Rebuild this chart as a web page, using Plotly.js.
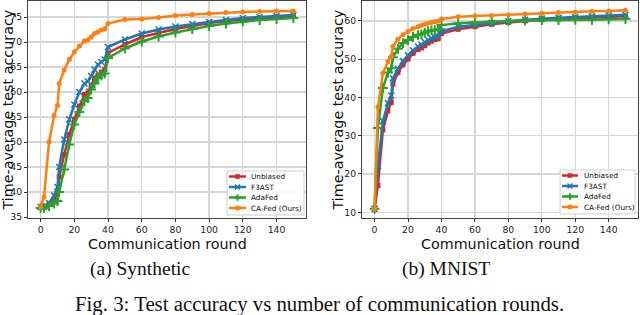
<!DOCTYPE html>
<html>
<head>
<meta charset="utf-8">
<script src="https://cdn.plot.ly/plotly-3.0.1.min.js"></script>
<style>html,body{margin:0;padding:0;background:#fff;}#chart{width:640px;height:315px;}</style>
</head>
<body>
<div id="chart"></div>
<script>
// ---- data ----
const rounds = [0,2,5,8,10,11,14,17,20,23,26,28,30,32,34,36,38,40,50,60,70,80,90,100,110,120,130,140,150];
const seriesNames = ["Unbiased", "F3AST", "AdaFed", "CA-Fed (Ours)"];
// Synthetic
const unbiasedSyn = [37.0,37.0,37.5,38.5,39.5,43.0,47.5,51.5,54.5,57.2,59.5,59.8,61.2,62.8,63.4,64.0,64.5,67.8,69.5,71.0,71.8,72.6,73.2,73.8,74.2,74.5,74.8,75.0,75.2];
const f3astSyn    = [37.0,37.0,37.8,39.3,41.0,45.0,50.5,54.5,57.5,60.0,61.7,62.1,63.2,64.5,65.5,66.0,66.5,69.0,70.5,71.7,72.5,73.1,73.6,74.0,74.4,74.8,75.0,75.2,75.4];
const adafedSyn   = [36.8,36.8,37.2,37.7,38.2,40.0,44.5,49.5,53.5,56.0,58.2,58.8,60.5,61.7,62.8,63.3,63.7,66.8,68.7,70.1,71.1,71.9,72.6,73.2,73.7,74.1,74.4,74.6,74.8];
const cafedSyn    = [37.0,39.0,50.0,55.3,57.3,61.7,64.4,66.5,68.0,69.2,70.2,70.4,71.0,71.7,72.0,72.4,72.6,73.7,74.5,74.6,74.9,75.3,75.5,75.7,75.9,76.0,76.1,76.2,76.2];
// MNIST
const unbiasedMn = [10.9,17.0,31.5,36.5,38.7,43.5,46.5,48.5,50.0,51.5,52.5,52.9,53.5,54.2,54.7,55.1,55.3,56.7,57.8,58.5,59.1,59.6,60.0,60.3,60.5,60.7,60.9,61.0,61.2];
const f3astMn    = [10.9,22.0,33.8,38.5,40.5,45.0,47.5,49.5,51.0,52.3,53.3,53.8,54.5,55.0,55.5,55.8,56.0,57.3,58.5,59.0,59.5,59.9,60.3,60.6,60.8,61.0,61.2,61.4,61.6];
const adafedMn   = [10.9,32.0,42.5,46.5,47.6,50.5,52.7,54.2,55.0,55.8,56.3,56.5,56.9,57.3,57.5,57.6,57.8,58.9,59.4,59.6,59.8,60.0,60.1,60.2,60.2,60.3,60.3,60.4,60.5];
const cafedMn    = [10.9,37.5,46.3,49.4,50.7,53.3,55.2,56.4,57.2,58.0,58.5,58.8,59.1,59.4,59.6,59.8,59.9,60.5,61.1,61.3,61.4,61.6,61.8,62.0,62.2,62.3,62.5,62.6,62.8];
const xTicks = [0,20,40,60,80,100,120,140];
const synTicks = [35,40,45,50,55,60,65,70,75];
const mnTicks = [10,20,30,40,50,60];
const xTitle = "Communication round";
const yTitle = "Time-average test accuracy";
const captionA = "(a) Synthetic";
const captionB = "(b) MNIST";
const figCaption = "Fig. 3: Test accuracy vs number of communication rounds.";

// ---- styles ----
const W = 640, H = 315;
const PX = x => x / W, PY = y => 1 - y / H;
const colors = ["#d62728", "#1f77b4", "#2ca02c", "#ff7f0e"];
const markerDefs = [
  {symbol: "square", size: 5, color: colors[0], line: {width: 0}},
  {symbol: "x-thin", size: 6, color: colors[1], line: {width: 1.6, color: colors[1]}},
  {symbol: "cross-thin", size: 7, color: colors[2], line: {width: 2, color: colors[2]}},
  {symbol: "circle", size: 5, color: colors[3], line: {width: 0}}
];
const synData = [unbiasedSyn, f3astSyn, adafedSyn, cafedSyn];
const mnData = [unbiasedMn, f3astMn, adafedMn, cafedMn];

const traces = [];
[[synData, "x", "y"], [mnData, "x2", "y2"]].forEach(([set, xa, ya]) => {
  set.forEach((vals, i) => {
    traces.push({
      type: "scatter", mode: "lines+markers", x: rounds, y: vals,
      name: seriesNames[i], showlegend: false, xaxis: xa, yaxis: ya,
      line: {color: colors[i], width: 2.5},
      marker: markerDefs[i], cliponaxis: true
    });
  });
});

const tickFont = {family: "DejaVu Sans", size: 9.3, color: "#222"};
function axisBase() {
  return {
    showgrid: true, gridcolor: "#d6d6d6", gridwidth: 1.3,
    showline: true, mirror: true, linecolor: "#444", linewidth: 1,
    ticks: "outside", ticklen: 3, tickwidth: 1, tickcolor: "#333",
    tickfont: tickFont, zeroline: false, fixedrange: true
  };
}
const yDom = [1 - 218 / H, 1 - 1 / H];
const layout = {
  width: W, height: H, margin: {l: 0, r: 0, t: 0, b: 0},
  paper_bgcolor: "#fff", plot_bgcolor: "#fff", showlegend: false,
  xaxis: Object.assign(axisBase(), {domain: [PX(28), PX(306)], range: [-7.5, 157.5], tickvals: xTicks, anchor: "y"}),
  yaxis: Object.assign(axisBase(), {domain: yDom, range: [34.8, 78.2], tickvals: synTicks, anchor: "x"}),
  xaxis2: Object.assign(axisBase(), {domain: [PX(362), PX(638)], range: [-7.5, 157.5], tickvals: xTicks, anchor: "y2"}),
  yaxis2: Object.assign(axisBase(), {domain: yDom, range: [8.5, 65.2], tickvals: mnTicks, anchor: "x2"}),
  annotations: [], shapes: []
};

const titleFont = {family: "DejaVu Sans", size: 14.3, color: "#111"};
const capFont = {family: "Liberation Serif", size: 19.5, color: "#111"};
function ann(text, x, y, font, extra) {
  layout.annotations.push(Object.assign({text, x: PX(x), y: PY(y), xref: "paper", yref: "paper",
    showarrow: false, font, xanchor: "center", yanchor: "middle"}, extra || {}));
}
ann(xTitle, 167, 244, titleFont);
ann(xTitle, 500, 244, titleFont);
ann(yTitle, 7.5, 110, titleFont, {textangle: -90});
ann(yTitle, 337.5, 110, titleFont, {textangle: -90});
ann(captionA, 140, 269, capFont);
ann(captionB, 446, 269, capFont);
ann(figCaption, 319, 304, Object.assign({}, capFont, {size: 20.8}));

// ---- custom legends ----
function legend(bx0, bx1, by0, by1, lx0, lx1, tx, rows) {
  layout.shapes.push({type: "rect", xref: "paper", yref: "paper", x0: PX(bx0), x1: PX(bx1), y0: PY(by1), y1: PY(by0),
    line: {color: "#cfcfcf", width: 1}, fillcolor: "rgba(255,255,255,0.85)", layer: "above"});
  rows.forEach((ry, i) => {
    const c = colors[i];
    layout.shapes.push({type: "line", xref: "paper", yref: "paper", x0: PX(lx0), x1: PX(lx1), y0: PY(ry), y1: PY(ry),
      line: {color: c, width: 2.5}, layer: "above"});
    const mx = (lx0 + lx1) / 2;
    if (i === 0) {
      layout.shapes.push({type: "rect", xref: "paper", yref: "paper", x0: PX(mx - 2.3), x1: PX(mx + 2.3), y0: PY(ry + 2.3), y1: PY(ry - 2.3),
        line: {width: 0}, fillcolor: c, layer: "above"});
    } else if (i === 1) {
      [[-2.5, -2.5, 2.5, 2.5], [-2.5, 2.5, 2.5, -2.5]].forEach(d => layout.shapes.push({type: "line", xref: "paper", yref: "paper",
        x0: PX(mx + d[0]), y0: PY(ry + d[1]), x1: PX(mx + d[2]), y1: PY(ry + d[3]), line: {color: c, width: 1.5}, layer: "above"}));
    } else if (i === 2) {
      [[-3.2, 0, 3.2, 0], [0, -3.2, 0, 3.2]].forEach(d => layout.shapes.push({type: "line", xref: "paper", yref: "paper",
        x0: PX(mx + d[0]), y0: PY(ry + d[1]), x1: PX(mx + d[2]), y1: PY(ry + d[3]), line: {color: c, width: 2}, layer: "above"}));
    } else {
      layout.shapes.push({type: "circle", xref: "paper", yref: "paper", x0: PX(mx - 2.5), x1: PX(mx + 2.5), y0: PY(ry + 2.5), y1: PY(ry - 2.5),
        line: {width: 0}, fillcolor: c, layer: "above"});
    }
    ann(seriesNames[i], tx, ry, {family: "DejaVu Sans", size: 7.3, color: "#111"}, {xanchor: "left"});
  });
}
legend(227, 304, 171, 215, 229, 246, 249, [176.5, 187, 197.5, 208]);
legend(560, 635, 170, 214, 562, 578, 582, [175.5, 186, 196.5, 207]);

Plotly.newPlot("chart", traces, layout, {staticPlot: true, displayModeBar: false});
</script>
</body>
</html>
